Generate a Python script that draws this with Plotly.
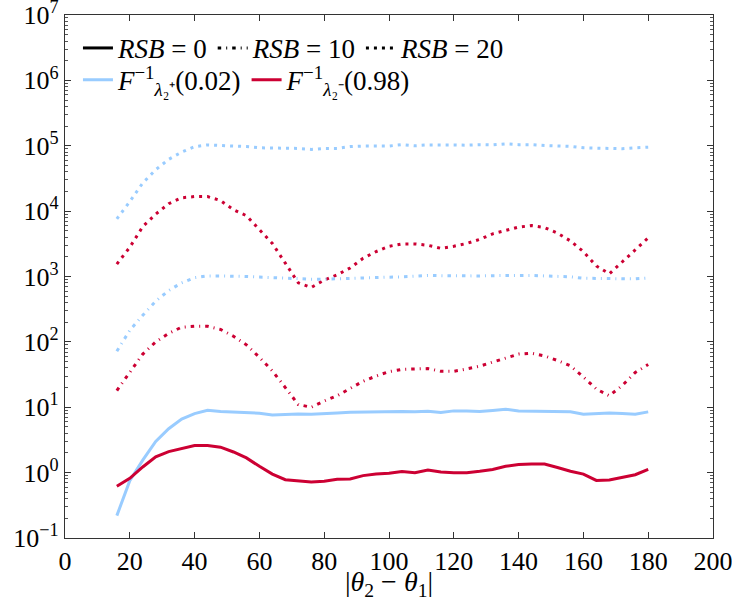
import plotly.graph_objects as go

# ---- data ----
theta = [16, 20, 24, 28, 32, 36, 40, 44, 48, 52, 56, 60, 64, 68, 72, 76, 80, 84, 88, 92,
         96, 100, 104, 108, 112, 116, 120, 124, 128, 132, 136, 140, 144, 148, 152, 156,
         160, 164, 168, 172, 176, 180]

# lower quantile F^-1_{lambda2+}(0.02)
blue_rsb0 = [0.22, 0.75, 1.55, 3.0, 4.7, 6.6, 8.0, 9.0, 8.6, 8.5, 8.4, 8.1, 7.6, 7.8, 7.9, 7.8,
             8.1, 8.2, 8.4, 8.5, 8.6, 8.7, 8.6, 8.5, 8.7, 8.3, 8.8, 8.8, 8.6, 8.9, 9.3, 8.8,
             8.7, 8.7, 8.6, 8.5, 7.8, 8.1, 8.2, 8.0, 7.8, 8.5]
blue_rsb10 = [72, 150, 255, 420, 610, 800, 960, 1020, 1020, 1020, 1000, 980, 960, 930, 910,
              910, 910, 920, 950, 960, 970, 980, 990, 1010, 1040, 1030, 1020, 1020, 1020,
              1030, 1040, 1050, 1040, 1020, 1000, 990, 940, 930, 940, 920, 920, 950]
blue_rsb20 = [7600, 14000, 27000, 43000, 62000, 80000, 97000, 103000, 101000, 100000, 97000,
              93000, 92000, 93000, 91000, 88000, 91000, 91000, 97000, 99000, 99000, 99000,
              104000, 100000, 103000, 104000, 103000, 102000, 104000, 103000, 107000,
              104000, 104000, 101000, 100000, 98000, 93000, 92000, 92000, 90000, 93000, 95000]

# upper quantile F^-1_{lambda2-}(0.98)
red_rsb0 = [0.62, 0.82, 1.22, 1.75, 2.1, 2.35, 2.6, 2.6, 2.45, 2.07, 1.68, 1.25, 0.95, 0.78,
            0.74, 0.72, 0.74, 0.79, 0.80, 0.90, 0.95, 0.98, 1.04, 1.0, 1.1, 1.02, 1.0, 1.0,
            1.05, 1.12, 1.25, 1.33, 1.36, 1.35, 1.2, 1.05, 0.95, 0.76, 0.77, 0.85, 0.93, 1.12]
red_rsb10 = [18, 34, 65, 100, 135, 168, 173, 173, 155, 122, 90, 58, 36, 20, 11, 10, 12.5, 15,
             19.5, 25, 30, 35, 38, 38.5, 39, 35.5, 35.5, 38.5, 42.5, 49, 57, 65, 67, 61, 52,
             43, 29, 19, 15, 21.5, 34, 45]
red_rsb20 = [1550, 2800, 5800, 9000, 13000, 16000, 16700, 16700, 14500, 10500, 8500, 5200,
             3200, 1600, 800, 680, 880, 1060, 1350, 1900, 2400, 2900, 3150, 3150, 3000, 2700,
             2900, 3200, 3700, 4500, 5100, 5700, 6000, 5600, 4600, 3500, 2400, 1450, 1100,
             1650, 2550, 3900]

y_tickvals = [1e-1, 1e0, 1e1, 1e2, 1e3, 1e4, 1e5, 1e6, 1e7]
y_ticktext = ['10<sup>−1</sup>', '10<sup>0</sup>', '10<sup>1</sup>', '10<sup>2</sup>',
              '10<sup>3</sup>', '10<sup>4</sup>', '10<sup>5</sup>', '10<sup>6</sup>',
              '10<sup>7</sup>']

rsb_labels = ['<i>RSB</i> = 0', '<i>RSB</i> = 10', '<i>RSB</i> = 20']
quant_labels = ['<i>F</i><sup>−1</sup><sub><i>λ</i>₂⁺</sub>(0.02)',
                '<i>F</i><sup>−1</sup><sub><i>λ</i>₂⁻</sub>(0.98)']

# ---- styles ----
BLUE = '#99ccff'
RED = '#cc0033'
LW = 3
DASHES = ['solid', '3.5px,5px,1px,5px', '3px,5px']
FONT = 'Liberation Serif'

fig = go.Figure()

series = [
    (blue_rsb20, BLUE, DASHES[2]), (red_rsb20, RED, DASHES[2]),
    (blue_rsb10, BLUE, DASHES[1]), (red_rsb10, RED, DASHES[1]),
    (blue_rsb0, BLUE, DASHES[0]), (red_rsb0, RED, DASHES[0]),
]
for yv, col, dash in series:
    fig.add_trace(go.Scatter(x=theta, y=yv, mode='lines', showlegend=False,
                             line=dict(color=col, width=LW, dash=dash)))

# legend entries
for lab, dash in zip(rsb_labels, DASHES):
    fig.add_trace(go.Scatter(x=[None], y=[None], mode='lines', name=lab, legend='legend',
                             line=dict(color='black', width=LW, dash=dash)))
for lab, col in zip(quant_labels, [BLUE, RED]):
    fig.add_trace(go.Scatter(x=[None], y=[None], mode='lines', name=lab, legend='legend2',
                             line=dict(color=col, width=LW)))

axis_common = dict(showline=True, linecolor='#333', linewidth=1.2, mirror='ticks',
                   ticks='inside', tickcolor='#333', showgrid=False, zeroline=False,
                   automargin=False, ticklabeloverflow='allow',
                   tickfont=dict(family=FONT, size=26, color='black'))

fig.update_layout(
    width=732, height=601,
    margin=dict(l=65, r=19, t=15, b=63),
    paper_bgcolor='white', plot_bgcolor='white',
    font=dict(family=FONT, color='black'),
    xaxis=dict(range=[0, 200], dtick=20, ticklen=6,
               title=dict(text='|<i>θ</i><sub>2</sub> − <i>θ</i><sub>1</sub>|',
                          font=dict(family=FONT, size=28), standoff=2),
               **axis_common),
    yaxis=dict(type='log', range=[-1, 7], tickmode='array', tickvals=y_tickvals,
               ticktext=y_ticktext, ticklen=6,
               minor=dict(ticks='inside', ticklen=3, tickcolor='#555', dtick='D1'),
               **axis_common),
    legend=dict(orientation='h', x=0.02, y=0.983, xanchor='left', yanchor='top',
                bgcolor='rgba(0,0,0,0)', font=dict(family=FONT, size=27),
                itemwidth=30, tracegroupgap=0),
    legend2=dict(orientation='h', x=0.02, y=0.922, xanchor='left', yanchor='top',
                 bgcolor='rgba(0,0,0,0)', font=dict(family=FONT, size=27),
                 itemwidth=30, tracegroupgap=0),
)

fig.write_html('out.html', config={'displayModeBar': False},
               post_script="document.body.style.margin='0';")
